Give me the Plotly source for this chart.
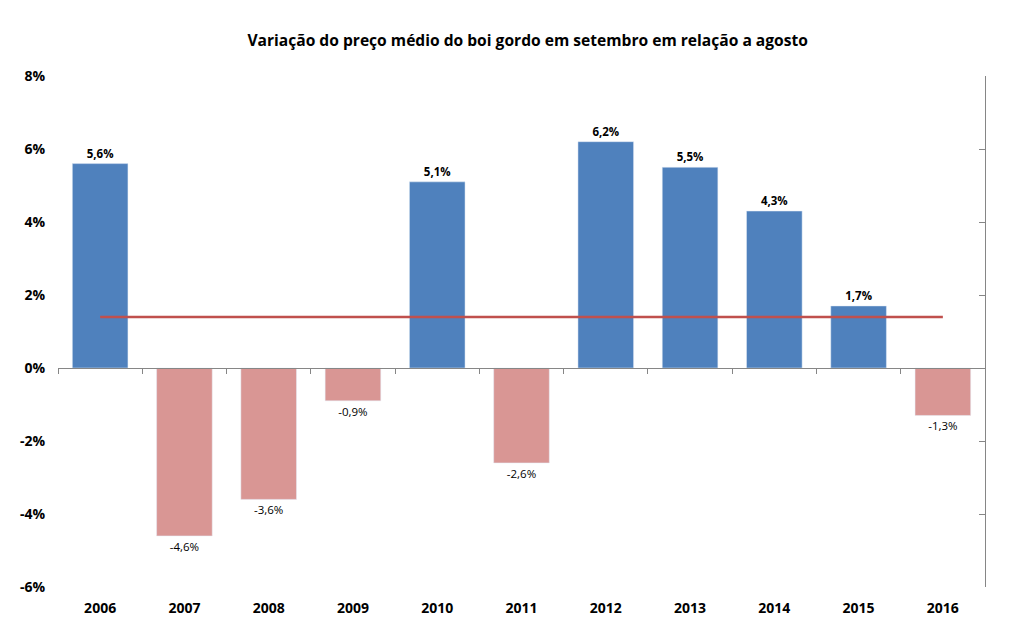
import plotly.graph_objects as go

years = ["2006", "2007", "2008", "2009", "2010", "2011", "2012", "2013", "2014", "2015", "2016"]
values = [5.6, -4.6, -3.6, -0.9, 5.1, -2.6, 6.2, 5.5, 4.3, 1.7, -1.3]
average = [1.4] * len(years)
tick_vals = [8, 6, 4, 2, 0, -2, -4, -6]
tick_text = ["8%", "6%", "4%", "2%", "0%", "-2%", "-4%", "-6%"]
title = "Variação do preço médio do boi gordo em setembro em relação a agosto"

def fmt(v):
    return ("%.1f" % v).replace(".", ",") + "%"

pos_x = [y for y, v in zip(years, values) if v >= 0]
pos_y = [v for v in values if v >= 0]
neg_x = [y for y, v in zip(years, values) if v < 0]
neg_y = [v for v in values if v < 0]

FONT = "Open Sans"

fig = go.Figure()
fig.add_trace(go.Bar(
    x=pos_x, y=pos_y, marker_color="#4F81BD", width=0.66,
    text=[fmt(v) for v in pos_y], textposition="outside", cliponaxis=False,
    textfont=dict(family=FONT, size=11.5, color="black", weight="bold"),
    hoverinfo="skip",
))
fig.add_trace(go.Bar(
    x=neg_x, y=neg_y, marker_color="#D99694", width=0.66,
    text=[fmt(v) for v in neg_y], textposition="outside", cliponaxis=False,
    textfont=dict(family=FONT, size=11.5, color="black"),
    hoverinfo="skip",
))
fig.add_trace(go.Scatter(
    x=years, y=average, mode="lines",
    line=dict(color="#C0504D", width=2.5),
))
# invisible trace to activate right axis
fig.add_trace(go.Scatter(x=years, y=[None] * len(years), yaxis="y2", xaxis="x2",
                         mode="lines", showlegend=False, hoverinfo="skip"))

fig.update_layout(
    width=1013, height=632,
    margin=dict(l=50, r=36, t=68, b=53),
    plot_bgcolor="white", paper_bgcolor="white",
    showlegend=False,
    barmode="relative",
    title=dict(text="<b>" + title + "</b>", x=0.513, xanchor="center", y=0.949, yanchor="middle",
               font=dict(family=FONT, size=15.6, color="black")),
    xaxis=dict(
        categoryorder="array", categoryarray=years,
        showline=False, ticks="", showgrid=False, zeroline=False,
        tickfont=dict(family=FONT, size=14, color="black", weight="bold"),
        ticklabelstandoff=11,
        range=[-0.5, 10.5],
    ),
    xaxis2=dict(
        overlaying="x", anchor="free", position=6 / 14,
        categoryorder="array", categoryarray=years,
        showline=True, linecolor="#868686", linewidth=1,
        ticks="outside", ticklen=5, tickcolor="#868686", tickson="boundaries",
        showticklabels=False, showgrid=False, zeroline=False,
        range=[-0.5, 10.5], matches="x",
    ),
    yaxis=dict(
        range=[-6, 8], tickvals=tick_vals, ticktext=tick_text,
        showgrid=False, zeroline=False, showline=False, ticks="",
        tickfont=dict(family=FONT, size=14, color="black", weight="bold"),
        ticklabelstandoff=12,
    ),
    yaxis2=dict(
        overlaying="y", side="right", range=[-6, 8], tickvals=tick_vals,
        showticklabels=False, showgrid=False, zeroline=False,
        showline=True, linecolor="#868686", linewidth=1,
        ticks="inside", ticklen=6, tickcolor="#868686",
    ),
)

fig.write_html("out.html")
